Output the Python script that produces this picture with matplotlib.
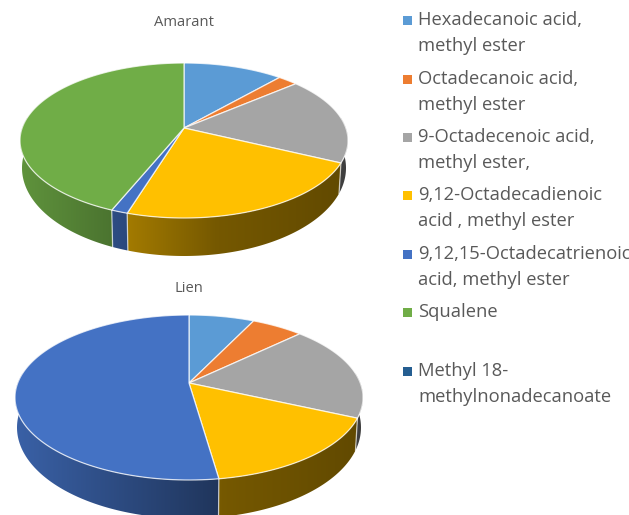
import numpy as np
import matplotlib
matplotlib.use("Agg")
import matplotlib.pyplot as plt
from matplotlib.patches import Polygon, Rectangle

W, H = 629, 515
plt.rcParams['font.family'] = ['Open Sans', 'DejaVu Sans']

legend_labels = ["Hexadecanoic acid,\nmethyl ester", "Octadecanoic acid,\nmethyl ester",
                 "9-Octadecenoic acid,\nmethyl ester,", "9,12-Octadecadienoic\nacid , methyl ester",
                 "9,12,15-Octadecatrienoic\nacid, methyl ester", "Squalene",
                 "Methyl 18-\nmethylnonadecanoate"]
colors = ["#5B9BD5", "#ED7D31", "#A5A5A5", "#FFC000", "#4472C4", "#70AD47", "#255E91"]
amarant = [11.5, 2.3, 18.3, 22.7, 1.4, 43.8, 0.0]
lien = [7.2, 5.7, 18.8, 16.0, 52.3, 0.0, 0.0]

legend_y = [20, 79, 137, 195, 254, 312, 371]
TEXT = "#595959"
fig = plt.figure(figsize=(W / 100, H / 100), dpi=100, facecolor="white")


def shade(col, x):
    f = np.interp(x, [-1, -0.44, 0.2, 1], [0.85, 0.67, 0.46, 0.38])
    return np.outer(f, matplotlib.colors.to_rgb(col))


def draw_pie(values, cx, cy, a, b, apex_y, a2, b2, cy2, title, title_y):
    top, bottom = cy - b, cy2 + b2
    ax = fig.add_axes([(cx - a) / W, 1 - bottom / H, 2 * a / W, (bottom - top) / H])
    ylim = (-(bottom - cy) / b, 1)
    ax.axis("off")
    k = (cy - apex_y) / b
    sx, sy, shift = a2 / a, b2 / b, (cy2 - cy) / b
    edge = dict(ec=(1, 1, 1, 0.75), lw=0.9, joinstyle="round")

    def rim(t):
        dx, dy = np.sin(t), np.cos(t)
        den = 1 + k * dy
        return dx * np.sqrt(1 - k * k) / den, (dy + k) / den

    cum = np.concatenate([[0], np.cumsum(values)]) / np.sum(values) * 2 * np.pi

    # extruded side: one horizontal gradient per slice, clipped to its wall
    for i, col in enumerate(colors):
        if values[i] <= 0:
            continue
        ts = np.linspace(cum[i], cum[i + 1], 240)
        xs, ys = rim(ts)
        keep = ys < 0.3
        if not keep.any():
            continue
        xs, ys = xs[keep], ys[keep]
        xb, yb = xs * sx, ys * sy - shift
        pts = np.vstack([np.column_stack([xs, ys]), np.column_stack([xb, yb])[::-1]])
        patch = Polygon(pts, closed=True, fc="none", ec="none", transform=ax.transData)
        ax.add_patch(patch)
        gx = np.linspace(-1, 1, 400)
        img = ax.imshow(shade(col, gx)[None, :, :], extent=(-1, 1, ylim[0], ylim[1]),
                        aspect="auto", interpolation="bilinear", zorder=1)
        img.set_clip_path(patch)
        if ys[0] < 0:
            ax.plot([xs[0], xb[0]], [ys[0], yb[0]], color=(1, 1, 1, 0.65), lw=0.9, zorder=2)

    # top surface
    for i, col in enumerate(colors):
        if values[i] <= 0:
            continue
        ts = np.linspace(cum[i], cum[i + 1], 120)
        xs, ys = rim(ts)
        pts = np.vstack([[0, k], np.column_stack([xs, ys])])
        ax.add_patch(Polygon(pts, closed=True, fc=col, clip_on=False, zorder=3, **edge))

    ax.set_xlim(-1, 1)
    ax.set_ylim(*ylim)
    fig.text(cx / W, 1 - title_y / H, title, ha="center", va="center", color=TEXT, fontsize=10.6)


draw_pie(amarant, 184, 140.5, 164, 77.5, 128, 162, 88, 168, "Amarant", 22)
draw_pie(lien, 189, 397.5, 174, 82.5, 383, 172, 91, 427.5, "Lien", 288)

# legend
lax = fig.add_axes([0, 0, 1, 1])
lax.set_xlim(0, W)
lax.set_ylim(H, 0)
lax.axis("off")
lax.patch.set_alpha(0)
for lab, col, y in zip(legend_labels, colors, legend_y):
    lax.add_patch(Rectangle((403, y - 4.5), 9, 9, fc=col, ec="none"))
    for n, line in enumerate(lab.split("\n")):
        lax.text(418, y + n * 26, line, ha="left", va="center", color=TEXT, fontsize=13.2)

fig.savefig("out.png", dpi=100, facecolor="white")
